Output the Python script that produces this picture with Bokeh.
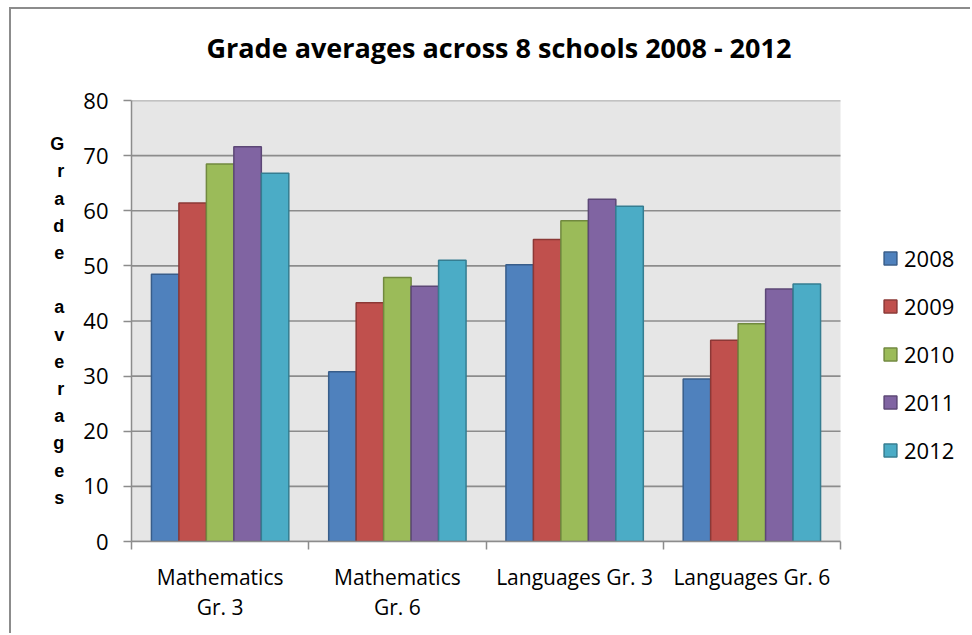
from bokeh.plotting import figure
from bokeh.models import (ColumnDataSource, FixedTicker, Legend, LegendItem, BoxAnnotation,
                          Title)
from bokeh.transform import dodge
from bokeh.embed import file_html
from bokeh.resources import INLINE

# ---- data ----
categories = ["Mathematics Gr. 3", "Mathematics Gr. 6", "Languages Gr. 3", "Languages Gr. 6"]
category_labels = ["Mathematics\nGr. 3", "Mathematics\nGr. 6", "Languages Gr. 3", "Languages Gr. 6"]
years = ["2008", "2009", "2010", "2011", "2012"]
v2008 = [48.5, 30.8, 50.2, 29.5]
v2009 = [61.4, 43.3, 54.8, 36.5]
v2010 = [68.5, 47.9, 58.2, 39.5]
v2011 = [71.6, 46.3, 62.1, 45.8]
v2012 = [66.8, 51.0, 60.8, 46.7]
y_ticks = [0, 10, 20, 30, 40, 50, 60, 70, 80]
y_max = 80
title_text = "Grade averages across 8 schools 2008 - 2012"
y_title = "Grade averages"

series = [v2008, v2009, v2010, v2011, v2012]
fill_colors = ["#4f81bd", "#c0504d", "#9bbb59", "#8064a2", "#4bacc6"]
line_colors = ["#385d8a", "#8c3836", "#71893f", "#5c4776", "#357d91"]

FONT = "Open Sans"
GRID = "#8c8c8c"

n = len(categories)
xs = [i + 0.5 for i in range(n)]
data = {"x": xs}
for y, vals in zip(years, series):
    data["y" + y] = vals
source = ColumnDataSource(data)

# layout (pixels): plot area 709 px wide, frame extended to the right edge
# so the legend can sit beside the grey plot area
W, H = 961, 626
LEFT, TOP, BOTTOM = 120, 91, 94
AREA_W = 709
frame_w = W - LEFT
x_end = n * frame_w / AREA_W

p = figure(width=W, height=H, x_range=(0, x_end), y_range=(0, y_max),
           output_backend="svg", toolbar_location=None,
           min_border_left=LEFT, min_border_right=0, min_border_top=TOP,
           min_border_bottom=BOTTOM)
p.margin = (7, 0, 0, 9)
p.styles = {"border-left": "2px solid #8c8c8c", "border-top": "2px solid #8c8c8c"}
p.background_fill_color = "white"
p.border_fill_color = "white"
p.outline_line_color = None

# grey plot-area background over the categories only
p.add_layout(BoxAnnotation(left=0, right=n, bottom=0, top=y_max,
                           fill_color="#e6e6e6", fill_alpha=1, line_color=None,
                           level="image"))

# horizontal gridlines limited to the plot area
p.xgrid.grid_line_color = None
p.ygrid.grid_line_color = None
grid_src = ColumnDataSource({"y": y_ticks, "x0": [0] * len(y_ticks), "x1": [n] * len(y_ticks)})
p.segment(x0="x0", x1="x1", y0="y", y1="y", source=grid_src,
          line_color=GRID, line_width=1.6)

bw = 0.155
items = []
for i, y in enumerate(years):
    r = p.vbar(x=dodge("x", (i - 2) * bw, range=p.x_range), top="y" + y, width=bw,
               source=source, fill_color=fill_colors[i], line_color=line_colors[i],
               line_width=1.5)
    items.append(LegendItem(label=y, renderers=[r]))

# spacer between title and plot area, then the title itself
p.add_layout(Title(text=" ", text_font_size="1px", standoff=32), "above")
p.title.text = title_text
p.title.align = "left"
p.title.offset = 75
p.title.standoff = 0
p.title.text_font = FONT
p.title.text_font_style = "bold"
p.title.text_font_size = "27px"
p.title.text_color = "black"

# y axis
p.yaxis.ticker = FixedTicker(ticks=y_ticks)
p.yaxis.major_tick_out = 8
p.yaxis.major_tick_in = 0
p.yaxis.minor_tick_line_color = None
p.yaxis.axis_line_color = GRID
p.yaxis.axis_line_width = 1.5
p.yaxis.major_tick_line_color = GRID
p.yaxis.major_tick_line_width = 1.5
p.yaxis.major_label_text_font = FONT
p.yaxis.major_label_text_font_size = "22px"
p.yaxis.major_label_text_color = "black"
p.yaxis.major_label_standoff = 15
p.yaxis.axis_label = "\n".join(ch if ch != " " else "" for ch in y_title)
p.yaxis.axis_label_orientation = "horizontal"
p.yaxis.axis_label_text_align = "center"
p.yaxis.axis_label_text_font = "Liberation Sans"
p.yaxis.axis_label_text_font_style = "bold"
p.yaxis.axis_label_text_font_size = "18px"
p.yaxis.axis_label_text_line_height = 1.36
p.yaxis.axis_label_text_color = "black"
p.yaxis.axis_label_standoff = 16

# x axis
xt = FixedTicker(ticks=xs, minor_ticks=[float(i) for i in range(n + 1)])
p.xaxis.ticker = xt
p.xaxis.bounds = (0, n)
p.xaxis.major_label_overrides = {x: lab for x, lab in zip(xs, category_labels)}
p.xaxis.major_tick_line_color = None
p.xaxis.minor_tick_out = 8
p.xaxis.minor_tick_in = 0
p.xaxis.minor_tick_line_color = GRID
p.xaxis.minor_tick_line_width = 1.5
p.xaxis.axis_line_color = GRID
p.xaxis.axis_line_width = 1.5
p.xaxis.major_label_text_font = FONT
p.xaxis.major_label_text_font_size = "21px"
p.xaxis.major_label_text_line_height = 1.1
p.xaxis.major_label_text_color = "black"
p.xaxis.major_label_standoff = 13

# legend beside the plot area
legend = Legend(items=items, location=(751, 76), orientation="vertical",
                glyph_width=16, glyph_height=16, label_height=30, spacing=18,
                label_standoff=6, padding=0, margin=0, border_line_color=None,
                background_fill_alpha=0, label_text_font=FONT,
                label_text_font_size="22px", label_text_color="black")
p.add_layout(legend)

open("out.html", "w").write(file_html(p, INLINE))
